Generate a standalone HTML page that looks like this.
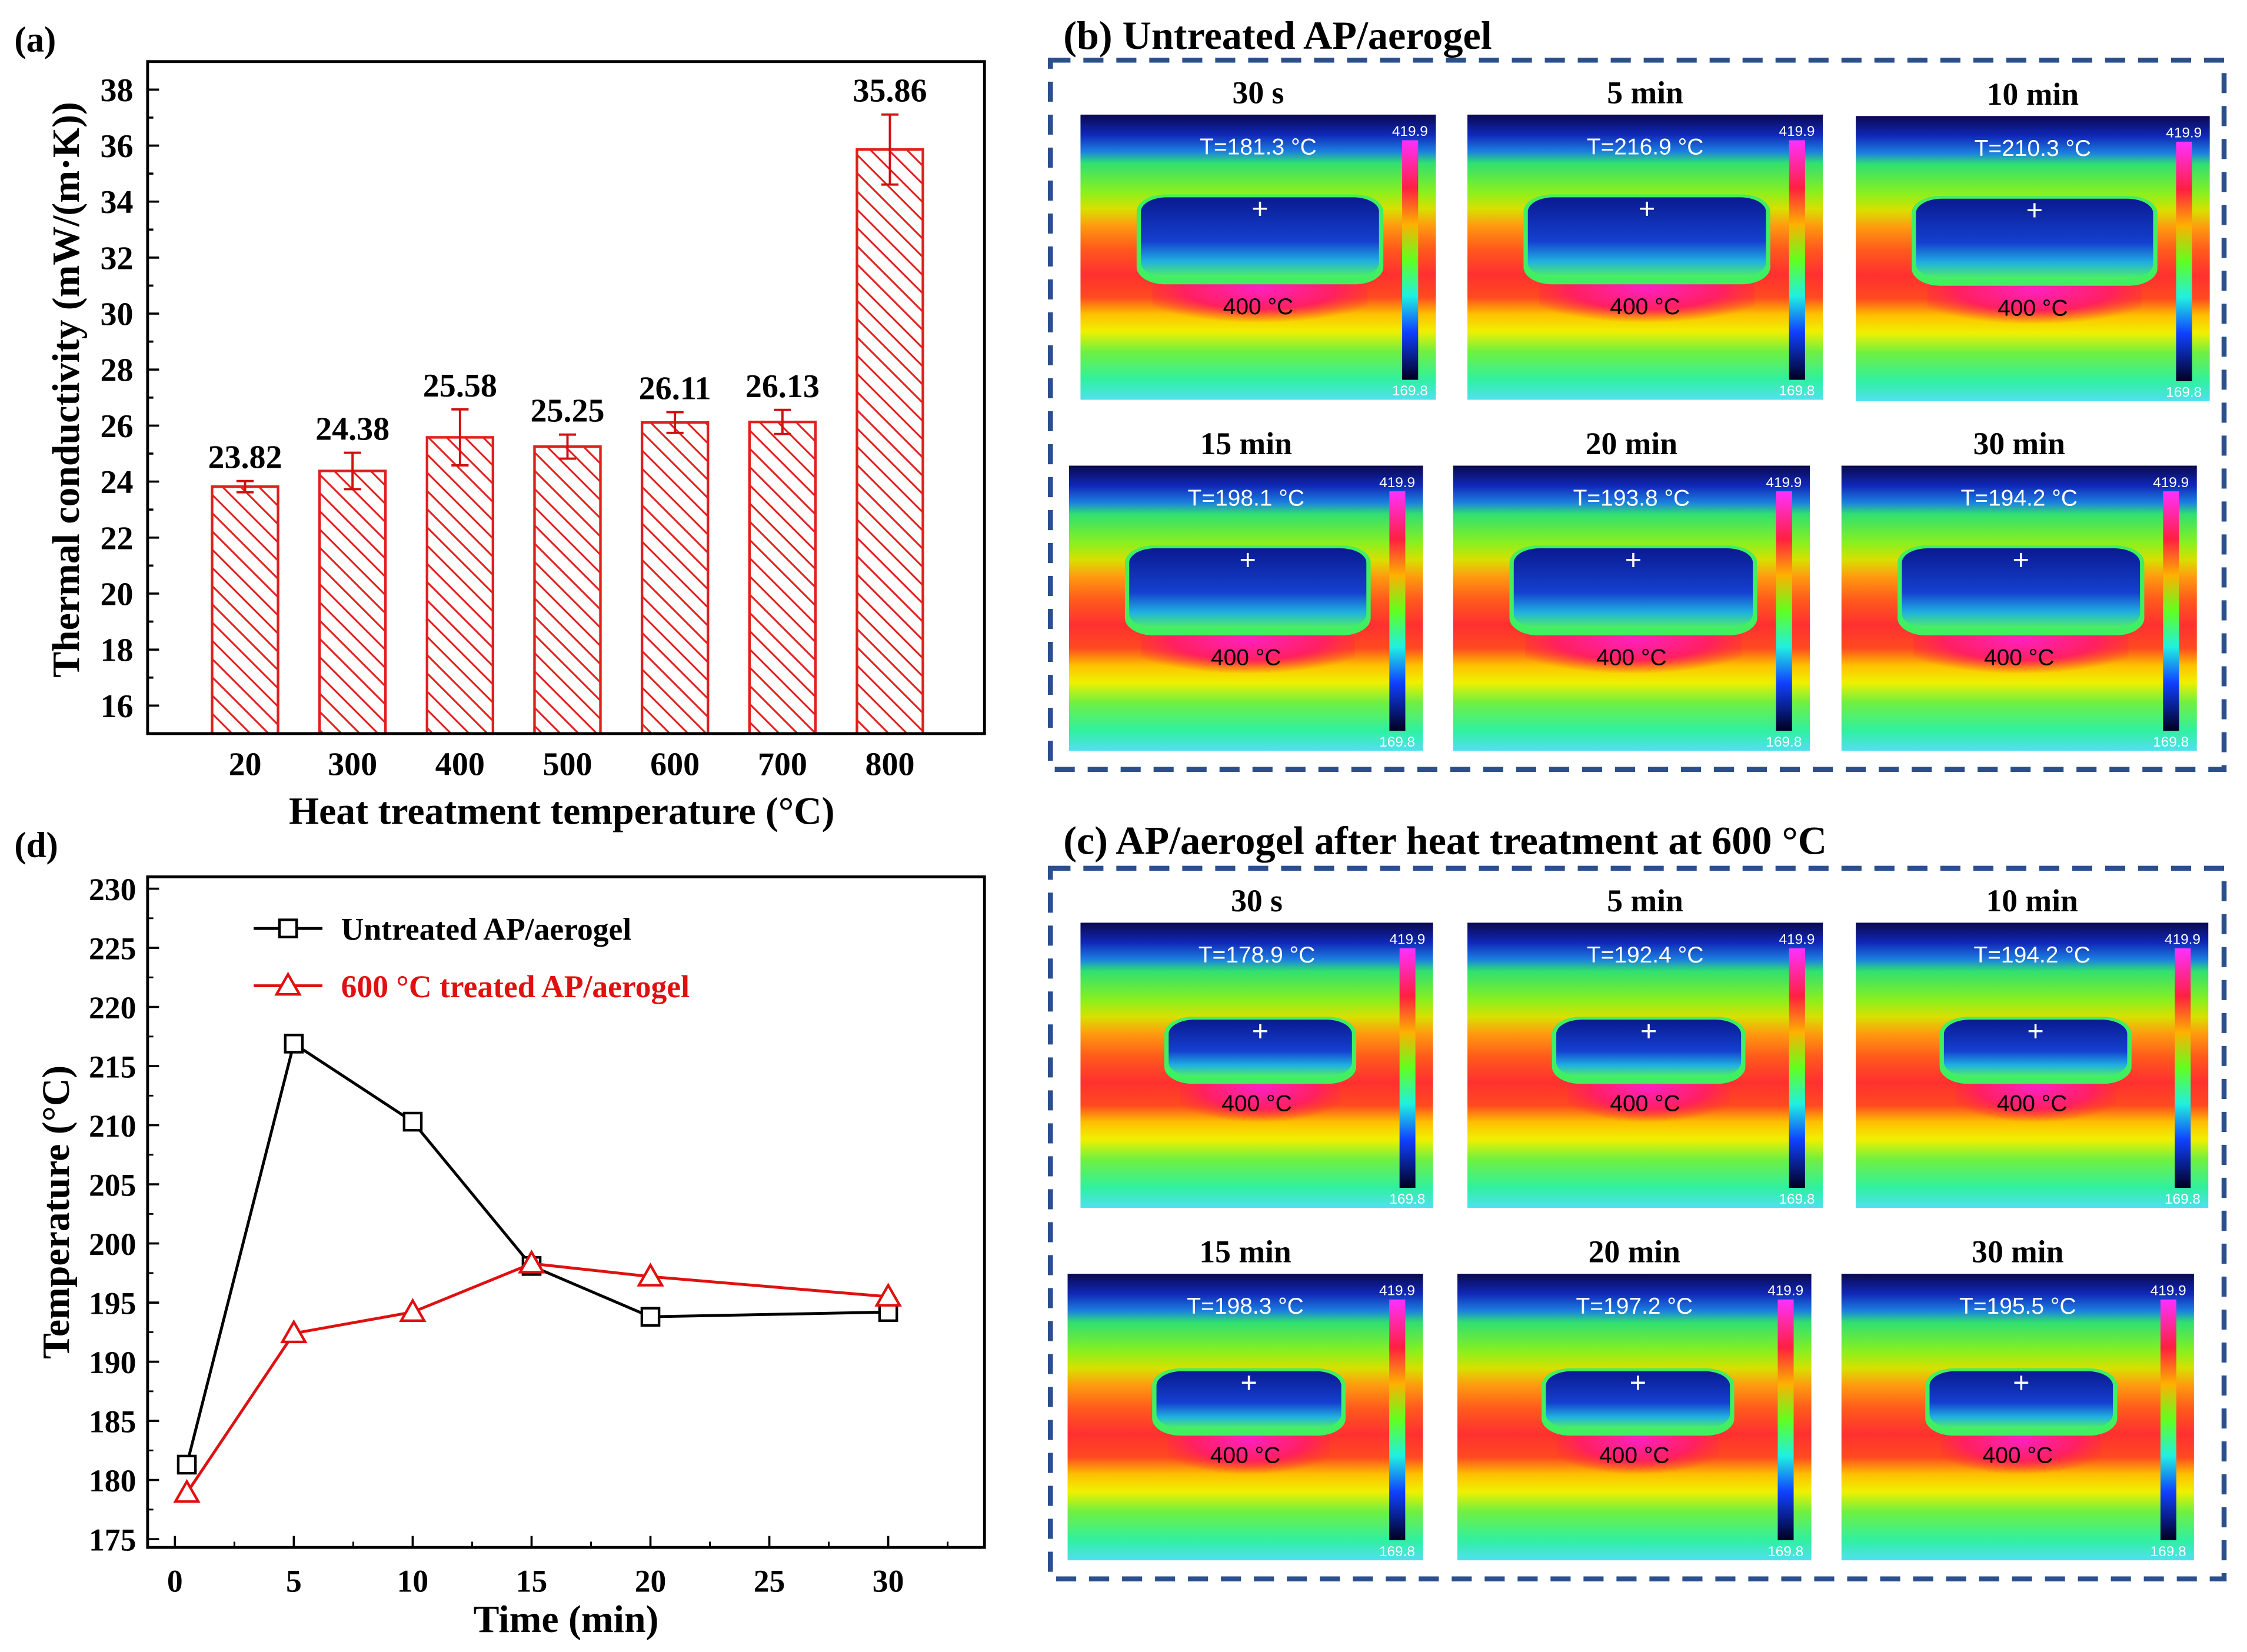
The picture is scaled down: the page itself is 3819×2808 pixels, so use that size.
<!DOCTYPE html>
<html><head><meta charset="utf-8"><style>
html,body{margin:0;padding:0;background:#fff}
svg{display:block}
text{font-family:"Liberation Serif",serif;font-weight:bold}
text.sans{font-family:"Liberation Sans",sans-serif;font-weight:normal}
</style></head><body>
<svg id="fig" xmlns="http://www.w3.org/2000/svg" width="3819" height="2808" viewBox="0 0 1568 1153" preserveAspectRatio="none">
<defs>
<pattern id="hatch" patternUnits="userSpaceOnUse" width="9" height="9" patternTransform="rotate(-45)">
<line x1="4.5" y1="0" x2="4.5" y2="9" stroke="#e0201f" stroke-width="1.3"/>
</pattern>
<linearGradient id="bg" x1="0" y1="0" x2="0" y2="1">
<stop offset="0" stop-color="#0a0850"/><stop offset="0.07" stop-color="#1028b8"/><stop offset="0.13" stop-color="#1c80e0"/>
<stop offset="0.17" stop-color="#30e070"/><stop offset="0.27" stop-color="#88f020"/><stop offset="0.33" stop-color="#d8e000"/>
<stop offset="0.39" stop-color="#ff9a10"/><stop offset="0.47" stop-color="#ff5a1c"/><stop offset="0.56" stop-color="#ff3030"/>
<stop offset="0.64" stop-color="#ff4a20"/><stop offset="0.7" stop-color="#ffc000"/><stop offset="0.76" stop-color="#f0f000"/>
<stop offset="0.83" stop-color="#70f040"/><stop offset="0.93" stop-color="#30f0a0"/><stop offset="1" stop-color="#50e0f0"/>
</linearGradient>
<linearGradient id="cbar" x1="0" y1="0" x2="0" y2="1">
<stop offset="0" stop-color="#ff30ff"/><stop offset="0.2" stop-color="#ff2040"/><stop offset="0.35" stop-color="#ffb000"/>
<stop offset="0.5" stop-color="#60ff20"/><stop offset="0.65" stop-color="#20f0e0"/><stop offset="0.8" stop-color="#1040ff"/><stop offset="1" stop-color="#000020"/>
</linearGradient>
<linearGradient id="samp" x1="0" y1="0" x2="0" y2="1">
<stop offset="0" stop-color="#0a1a90"/><stop offset="0.55" stop-color="#1440d0"/><stop offset="0.8" stop-color="#20b0e0"/><stop offset="1" stop-color="#50f060"/>
</linearGradient>
<radialGradient id="glow" cx="0.5" cy="0.3" r="0.6">
<stop offset="0" stop-color="#ff20c0"/><stop offset="0.6" stop-color="#ff2060"/><stop offset="1" stop-color="#ff3030" stop-opacity="0"/>
</radialGradient>
</defs>
<g id="panelA"></g>
<g id="panelD"></g>
<g id="panelB"></g>
<g id="panelC"></g>
</svg>
<script>
// ---- Panel (a) data ----
const barCategories = ["20","300","400","500","600","700","800"];
const barValues = [23.82, 24.38, 25.58, 25.25, 26.11, 26.13, 35.86];
const barErrors = [0.2, 0.65, 1.0, 0.43, 0.37, 0.43, 1.25];
const barYTicks = [16,18,20,22,24,26,28,30,32,34,36,38];
// ---- Panel (d) data ----
const timeX = [0.5, 5, 10, 15, 20, 30];
const untreatedT = [181.3, 216.9, 210.3, 198.1, 193.8, 194.2];
const treatedT = [178.9, 192.4, 194.2, 198.3, 197.2, 195.5];
const lineXTicks = [0,5,10,15,20,25,30];
const lineYTicks = [175,180,185,190,195,200,205,210,215,220,225,230];
// ---- thermal panel labels ----
const panelBLabels = ["30 s","5 min","10 min","15 min","20 min","30 min"];
const panelBTemps = ["T=181.3 °C","T=216.9 °C","T=210.3 °C","T=198.1 °C","T=193.8 °C","T=194.2 °C"];
const panelCLabels = ["30 s","5 min","10 min","15 min","20 min","30 min"];
const panelCTemps = ["T=178.9 °C","T=192.4 °C","T=194.2 °C","T=198.3 °C","T=197.2 °C","T=195.5 °C"];

const NS="http://www.w3.org/2000/svg";
function mk(parent,tag,attrs,txt){const e=document.createElementNS(NS,tag);for(const k in attrs)e.setAttribute(k,attrs[k]);if(txt!==undefined)e.textContent=txt;parent.appendChild(e);return e;}

// ===== Panel A =====
(function(){
const g=document.getElementById('panelA');
const L=103,R=687,T=43,B=512,ymin=15,ymax=39;
const ys=v=>B-(v-ymin)/(ymax-ymin)*(B-T);
const xs=i=>171+i*75;
let t=mk(g,'text',{x:10,y:36,'font-size':25},'(a)');


for(let v=16;v<=38;v++){mk(g,'line',{x1:L,x2:L+(v%2===0?8:4),y1:ys(v),y2:ys(v),stroke:'#000','stroke-width':1.5});}
barYTicks.forEach(v=>{const e=mk(g,'text',{x:L-10,y:ys(v)+8,'font-size':23,'text-anchor':'end'},v);

});
barCategories.forEach((c,i)=>{
 const x=xs(i),v=barValues[i],er=barErrors[i],w=46;
 const r=mk(g,'rect',{x:x-w/2,y:ys(v),width:w,height:B-ys(v),fill:'url(#hatch)',stroke:'#e0201f','stroke-width':1.8});
 
 
 const eb=mk(g,'path',{d:`M${x} ${ys(v+er)}V${ys(v-er)}M${x-6} ${ys(v+er)}h12M${x-6} ${ys(v-er)}h12`,stroke:'#d01010','stroke-width':1.6,fill:'none'});
 
 
 const lb=mk(g,'text',{x:x,y:ys(v+er)-9,'font-size':23,'text-anchor':'middle'},v.toFixed(2));
 
 
 const xl=mk(g,'text',{x:x,y:541,'font-size':23,'text-anchor':'middle'},c);
 
 
});
const fr=mk(g,'rect',{x:L,y:T,width:R-L,height:B-T,fill:'none',stroke:'#000','stroke-width':2});


const xt=mk(g,'text',{x:392,y:575,'font-size':27,'text-anchor':'middle'},'Heat treatment temperature (°C)');


const yt=mk(g,'text',{x:0,y:0,'font-size':27,'text-anchor':'middle',transform:'translate(55,272) rotate(-90)'},'Thermal conductivity (mW/(m·K))');


})();

// ===== Panel D =====
(function(){
const g=document.getElementById('panelD');
const L=103,R=687,T=612,B=1080,xmin=-1.15,xmax=34.05,ymin=174.3,ymax=231;
const xs=v=>L+(v-xmin)/(xmax-xmin)*(R-L);
const ys=v=>B-(v-ymin)/(ymax-ymin)*(B-T);
let t=mk(g,'text',{x:10,y:598,'font-size':25},'(d)');


lineYTicks.forEach(v=>{mk(g,'line',{x1:L,x2:L+8,y1:ys(v),y2:ys(v),stroke:'#000','stroke-width':1.5});
 if(v<230) mk(g,'line',{x1:L,x2:L+4,y1:ys(v+2.5),y2:ys(v+2.5),stroke:'#000','stroke-width':1.2});
 const e=mk(g,'text',{x:L-8,y:ys(v)+8,'font-size':22,'text-anchor':'end'},v);
 
 });
lineXTicks.forEach(v=>{mk(g,'line',{x1:xs(v),x2:xs(v),y1:B,y2:B-8,stroke:'#000','stroke-width':1.5});
 mk(g,'line',{x1:xs(v+2.5),x2:xs(v+2.5),y1:B,y2:B-4,stroke:'#000','stroke-width':1.2});
 const e=mk(g,'text',{x:xs(v),y:B+31,'font-size':22,'text-anchor':'middle'},v);
 
 });
const fr=mk(g,'rect',{x:L,y:T,width:R-L,height:B-T,fill:'none',stroke:'#000','stroke-width':2});


function series(vals,color,name,marker){
 const p=mk(g,'polyline',{points:timeX.map((x,i)=>xs(x)+','+ys(vals[i])).join(' '),fill:'none',stroke:color,'stroke-width':2});
 
 
 timeX.forEach((x,i)=>{const cx=xs(x),cy=ys(vals[i]);let m;
  if(marker==='sq')m=mk(g,'rect',{x:cx-6,y:cy-6,width:12,height:12,fill:'#fff',stroke:color,'stroke-width':1.8});
  else m=mk(g,'path',{d:`M${cx} ${cy-8}L${cx+8} ${cy+6}L${cx-8} ${cy+6}Z`,fill:'#fff',stroke:color,'stroke-width':1.8});
  
  });
}
series(untreatedT,'#000','untreated','sq');
series(treatedT,'#e01010','treated','tri');
const l1=mk(g,'g',{});


mk(l1,'line',{x1:177,x2:225,y1:648,y2:648,stroke:'#000','stroke-width':2});
mk(l1,'rect',{x:195,y:642,width:12,height:12,fill:'#fff',stroke:'#000','stroke-width':1.8});
mk(l1,'text',{x:238,y:656,'font-size':22},'Untreated AP/aerogel');
const l2=mk(g,'g',{});


mk(l2,'line',{x1:177,x2:225,y1:688,y2:688,stroke:'#e01010','stroke-width':2});
mk(l2,'path',{d:'M201 680L209 694L193 694Z',fill:'#fff',stroke:'#e01010','stroke-width':1.8});
mk(l2,'text',{x:238,y:696,'font-size':22,fill:'#e01010'},'600 °C treated AP/aerogel');
const xt=mk(g,'text',{x:395,y:1139,'font-size':27,'text-anchor':'middle'},'Time (min)');


const yt=mk(g,'text',{x:0,y:0,'font-size':27,'text-anchor':'middle',transform:'translate(48,846) rotate(-90)'},'Temperature (°C)');


})();

// ===== Thermal panels =====
function thermal(g,x,y,w,h,label,temp,small,name){
 const grp=mk(g,'g',{});
 
 
 const lb=mk(grp,'text',{x:x+w*0.5,y:y-8,'font-size':22,'text-anchor':'middle'},label);
 
 
 mk(grp,'rect',{x:x,y:y,width:w,height:h,fill:'url(#bg)'});
 const sx0=x+w*(small?0.25:0.17), sx1=x+w*(small?0.77:0.84);
 const sy0=y+h*(small?0.34:0.29), sy1=y+h*(small?0.54:0.57);
 mk(grp,'rect',{x:sx0+8,y:sy1-4,width:sx1-sx0-16,height:h*0.2,fill:'url(#glow)'});
 mk(grp,'rect',{x:sx0-3,y:sy0-2,width:sx1-sx0+6,height:sy1-sy0+7,rx:20,ry:12,fill:'#40f060'});
 mk(grp,'rect',{x:sx0,y:sy0,width:sx1-sx0,height:sy1-sy0,rx:18,ry:10,fill:'url(#samp)'});
 mk(grp,'text',{x:(sx0+sx1)/2,y:sy0+h*0.075,'font-size':20,'text-anchor':'middle',fill:'#fff','class':'sans'},'+');
 const cx=x+w*0.905;
 mk(grp,'rect',{x:cx,y:y+h*0.09,width:w*0.045,height:h*0.84,fill:'url(#cbar)'});
 mk(grp,'text',{x:cx+w*0.022,y:y+h*0.075,'font-size':10,'text-anchor':'middle',fill:'#fff','class':'sans'},'419.9');
 mk(grp,'text',{x:cx+w*0.022,y:y+h*0.985,'font-size':10,'text-anchor':'middle',fill:'#fff','class':'sans'},'169.8');
 const tt=mk(grp,'text',{x:x+w*0.5,y:y+h*0.14,'font-size':16,'text-anchor':'middle',fill:'#fff','class':'sans'},temp);
 
 
 mk(grp,'text',{x:x+w*0.5,y:y+h*(small?0.66:0.7),'font-size':16,'text-anchor':'middle',fill:'#000','class':'sans'},'400 °C');
}
(function(){
const g=document.getElementById('panelB');
const t=mk(g,'text',{x:742,y:34,'font-size':28},'(b) Untreated AP/aerogel');


const b=mk(g,'rect',{x:733,y:42,width:819,height:495,fill:'none',stroke:'#2a4f8c','stroke-width':3.5,'stroke-dasharray':'14 9'});


const pos=[[754,80,248,199],[1024,80,248,199],[1295,81,247,199],[746,325,247,199],[1014,325,249,199],[1285,325,248,199]];
pos.forEach((p,i)=>thermal(g,p[0],p[1],p[2],p[3],panelBLabels[i],panelBTemps[i],false,'thermal-image-b-'+(i+1)));
})();
(function(){
const g=document.getElementById('panelC');
const t=mk(g,'text',{x:742,y:596,'font-size':28},'(c) AP/aerogel after heat treatment at 600 °C');


const b=mk(g,'rect',{x:733,y:606,width:819,height:496,fill:'none',stroke:'#2a4f8c','stroke-width':3.5,'stroke-dasharray':'14 9'});


const pos=[[754,644,246,199],[1024,644,248,199],[1295,644,246,199],[745,889,248,200],[1017,889,247,200],[1285,889,246,200]];
pos.forEach((p,i)=>thermal(g,p[0],p[1],p[2],p[3],panelCLabels[i],panelCTemps[i],true,'thermal-image-c-'+(i+1)));
})();
</script>
</body></html>
